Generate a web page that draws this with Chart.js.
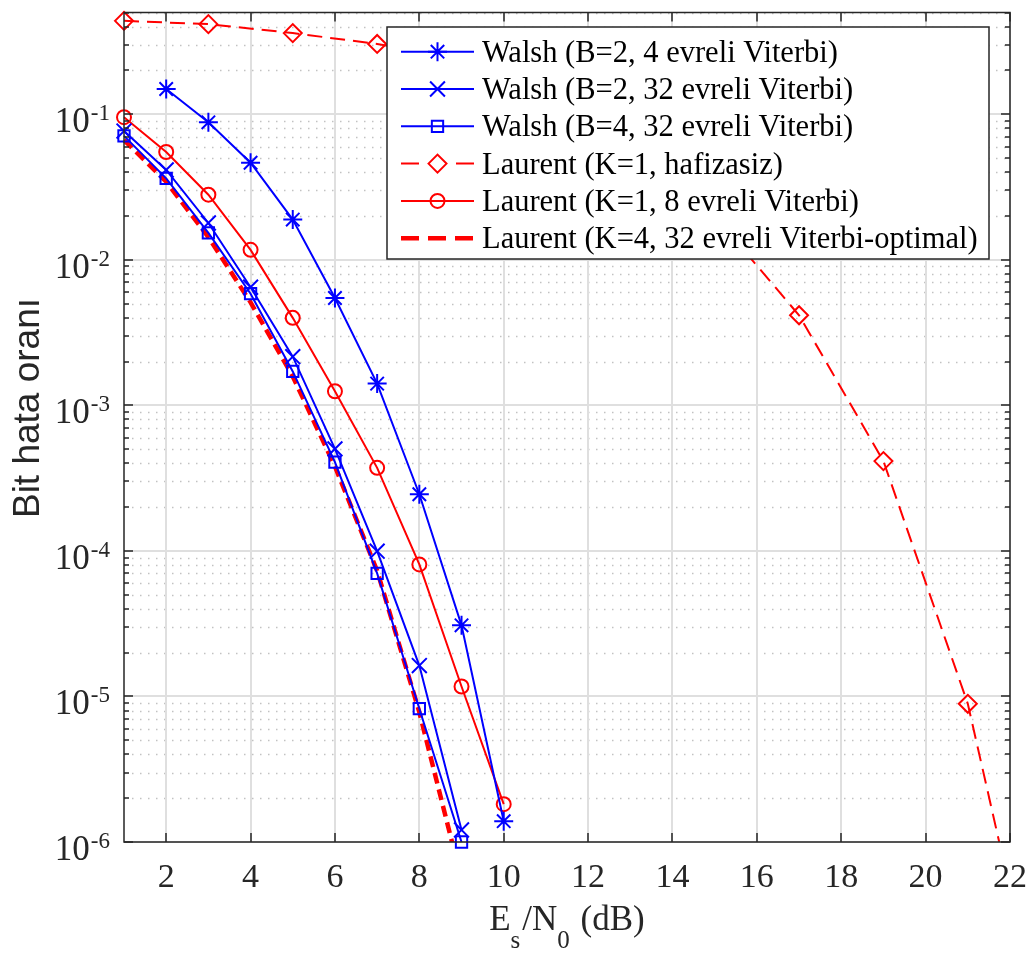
<!DOCTYPE html>
<html>
<head>
<meta charset="utf-8">
<script src="https://cdn.jsdelivr.net/npm/chart.js@4.4.1/dist/chart.umd.min.js"></script>
<style>
  html, body { margin: 0; padding: 0; background: #fff; }
  .c-chart { width: 1036px; height: 953px; }
</style>
</head>
<body>
<div class="c-chart"><canvas class="js-chart"></canvas></div>
<script>
// --- data ---
const walshB2V4X = [2, 3, 4, 5, 6, 7, 8, 9, 10];
const walshB2V4 = [0.149, 0.088, 0.0464, 0.0189, 0.00546, 1.41e-3, 2.45e-4, 3.08e-5, 1.39e-6];

const walshB2V32X = [1, 2, 3, 4, 5, 6, 7, 8, 9];
const walshB2V32 = [0.0766, 0.0414, 0.0179, 6.48e-3, 2.16e-3, 5.02e-4, 9.95e-5, 1.63e-5, 1.21e-6];

const walshB4V32X = [1, 2, 3, 4, 5, 6, 7, 8, 9];
const walshB4V32 = [0.071, 0.0363, 0.0153, 5.85e-3, 1.71e-3, 4.07e-4, 7.0e-5, 8.24e-6, 1.0e-6];

const laurentMemX = [1, 3, 5, 7, 9, 11, 13, 15, 17, 19, 21, 23];
const laurentMem = [0.438, 0.416, 0.361, 0.304, 0.24, 0.155, 0.068, 0.02, 4.16e-3, 4.14e-4, 8.9e-6, 2.5e-8];

const laurentK1X = [1, 2, 3, 4, 5, 6, 7, 8, 9, 10];
const laurentK1 = [0.0954, 0.055, 0.028, 0.0117, 3.99e-3, 1.25e-3, 3.72e-4, 8.07e-5, 1.17e-5, 1.82e-6];

const laurentK4X = [1, 2, 3, 4, 5, 6, 7, 8, 9];
const laurentK4 = [0.0665, 0.0344, 0.0143, 5.1e-3, 1.58e-3, 3.8e-4, 7.3e-5, 7.8e-6, 5.5e-7];

const seriesLabels = [
  'Walsh (B=2, 4 evreli Viterbi)',
  'Walsh (B=2, 32 evreli Viterbi)',
  'Walsh (B=4, 32 evreli Viterbi)',
  'Laurent (K=1, hafizasiz)',
  'Laurent (K=1, 8 evreli Viterbi)',
  'Laurent (K=4, 32 evreli Viterbi-optimal)',
];

const xTicks = [2, 4, 6, 8, 10, 12, 14, 16, 18, 20, 22];
const yTicks = [1e-6, 1e-5, 1e-4, 1e-3, 1e-2, 1e-1];
const yTickExp = ['-6', '-5', '-4', '-3', '-2', '-1'];
const xTitle = ['E', 's', '/N', '0', ' (dB)'];
const yTitle = 'Bit hata oranı';

// --- styling ---
const blue = '#0000ff';
const red = '#ff0000';
const axisColor = '#262626';
const serif = '"Liberation Serif", "Times New Roman", serif';
const sans = '"Liberation Sans", Arial, sans-serif';

const toPoints = function (xs, ys) {
  return xs.map((x, i) => ({ x: x, y: ys[i] }));
};

const styles = [
  { color: blue, width: 2, dash: [], marker: 'star', radius: 9.5 },
  { color: blue, width: 2, dash: [], marker: 'crossRot', radius: 10.5 },
  { color: blue, width: 2, dash: [], marker: 'rect', radius: 8 },
  { color: red, width: 2, dash: [15, 8], marker: 'rectRot', radius: 9 },
  { color: red, width: 2, dash: [], marker: 'circle', radius: 7 },
  { color: red, width: 4.5, dash: [11, 6], marker: false, radius: 0 },
];
const legendDash = [[], [], [], [18, 37], [], [18, 9]];

const makeSet = function (i, xs, ys, clip) {
  const s = styles[i];
  return {
    label: seriesLabels[i],
    data: toPoints(xs, ys),
    borderColor: s.color,
    borderWidth: s.width,
    borderDash: s.dash,
    pointStyle: s.marker,
    pointRadius: s.radius,
    pointHoverRadius: s.radius,
    pointBorderColor: s.color,
    pointBackgroundColor: 'rgba(0,0,0,0)',
    pointBorderWidth: 2,
    tension: 0,
    fill: false,
    clip: clip,
  };
};

const drawMarker = function (ctx, style, x, y) {
  if (!style.marker) return;
  ctx.save();
  ctx.setLineDash([]);
  ctx.strokeStyle = style.color;
  ctx.fillStyle = 'rgba(0,0,0,0)';
  ctx.lineWidth = 2;
  Chart.helpers.drawPoint(ctx, { pointStyle: style.marker, radius: style.radius, rotation: 0, borderWidth: 2 }, x, y);
  ctx.restore();
};

const matlabAxes = {
  id: 'matlabAxes',
  beforeDatasetsDraw(chart) {
    const { ctx, chartArea: a, scales: { x, y } } = chart;
    ctx.save();
    // minor dotted grid (log decades)
    ctx.strokeStyle = '#c2c2c2';
    ctx.lineWidth = 1.5;
    ctx.setLineDash([1.5, 6.5]);
    for (const major of yTicks) {
      for (let m = 2; m <= 9; m++) {
        const v = major * m;
        if (v > y.max) continue;
        const py = Math.round(y.getPixelForValue(v)) + 0.5;
        ctx.beginPath();
        ctx.moveTo(a.left, py);
        ctx.lineTo(a.right, py);
        ctx.stroke();
      }
    }
    ctx.setLineDash([]);
    ctx.strokeStyle = '#dfdfdf';
    ctx.lineWidth = 2;
    for (const v of yTicks) {
      const py = Math.round(y.getPixelForValue(v));
      ctx.beginPath();
      ctx.moveTo(a.left, py);
      ctx.lineTo(a.right, py);
      ctx.stroke();
    }
    for (const v of xTicks) {
      const px = Math.round(x.getPixelForValue(v));
      ctx.beginPath();
      ctx.moveTo(px, a.top);
      ctx.lineTo(px, a.bottom);
      ctx.stroke();
    }
    ctx.restore();
  },
  afterDatasetsDraw(chart) {
    const { ctx, chartArea: a, scales: { x, y } } = chart;
    ctx.save();
    ctx.strokeStyle = axisColor;
    ctx.lineWidth = 1.5;
    ctx.setLineDash([]);
    // ticks (inward, both sides)
    ctx.beginPath();
    for (const v of xTicks) {
      const px = Math.round(x.getPixelForValue(v));
      ctx.moveTo(px, a.bottom);
      ctx.lineTo(px, a.bottom - 9);
      ctx.moveTo(px, a.top);
      ctx.lineTo(px, a.top + 9);
    }
    for (const major of yTicks) {
      for (let m = 1; m <= 9; m++) {
        const v = major * m;
        if (v > y.max) continue;
        const len = m === 1 ? 9 : 5;
        const py = Math.round(y.getPixelForValue(v));
        ctx.moveTo(a.left, py);
        ctx.lineTo(a.left + len, py);
        ctx.moveTo(a.right, py);
        ctx.lineTo(a.right - len, py);
      }
    }
    ctx.stroke();
    // box
    ctx.strokeRect(a.left, a.top, a.right - a.left, a.bottom - a.top);

    // tick labels
    ctx.fillStyle = axisColor;
    ctx.textBaseline = 'alphabetic';
    ctx.font = '34px ' + serif;
    ctx.textAlign = 'center';
    for (const v of xTicks) {
      ctx.fillText(String(v), x.getPixelForValue(v), a.bottom + 45);
    }
    ctx.textAlign = 'left';
    yTicks.forEach((v, i) => {
      const py = y.getPixelForValue(v);
      ctx.font = '23px ' + serif;
      const wExp = ctx.measureText(yTickExp[i]).width;
      ctx.font = '35px ' + serif;
      const wBase = ctx.measureText('10').width;
      const x0 = a.left - 15 - wExp - wBase;
      ctx.fillText('10', x0, py + 18);
      ctx.font = '23px ' + serif;
      ctx.fillText(yTickExp[i], x0 + wBase + 1, py + 6);
    });

    // x title with subscripts
    const parts = [
      { t: xTitle[0], size: 35, dy: 0 },
      { t: xTitle[1], size: 25, dy: 18 },
      { t: xTitle[2], size: 35, dy: 0 },
      { t: xTitle[3], size: 25, dy: 18 },
      { t: xTitle[4], size: 35, dy: 0 },
    ];
    let total = 0;
    for (const p of parts) {
      ctx.font = p.size + 'px ' + serif;
      p.w = ctx.measureText(p.t).width + (p.dy ? 2 : 0);
      total += p.w;
    }
    let cx = (a.left + a.right) / 2 - total / 2;
    for (const p of parts) {
      ctx.font = p.size + 'px ' + serif;
      ctx.fillText(p.t, cx, 930 + p.dy);
      cx += p.w;
    }

    // y title
    ctx.save();
    ctx.font = '37px ' + sans;
    ctx.textAlign = 'center';
    ctx.translate(39, 408);
    ctx.rotate(-Math.PI / 2);
    ctx.fillText(yTitle, 0, 0);
    ctx.restore();

    // legend box (drawn on top of the data, like MATLAB)
    const lb = { left: 387, top: 27, right: 989, bottom: 259 };
    ctx.fillStyle = '#ffffff';
    ctx.fillRect(lb.left, lb.top, lb.right - lb.left, lb.bottom - lb.top);
    ctx.strokeStyle = axisColor;
    ctx.lineWidth = 1.5;
    ctx.strokeRect(lb.left, lb.top, lb.right - lb.left, lb.bottom - lb.top);
    ctx.font = '30.5px ' + serif;
    ctx.textAlign = 'left';
    seriesLabels.forEach((label, i) => {
      const s = styles[i];
      const ry = 51.7 + i * 37.3;
      ctx.save();
      ctx.strokeStyle = s.color;
      ctx.lineWidth = s.width;
      ctx.setLineDash(legendDash[i]);
      ctx.beginPath();
      ctx.moveTo(401, ry);
      ctx.lineTo(474, ry);
      ctx.stroke();
      ctx.restore();
      drawMarker(ctx, s, 437.5, ry);
      ctx.fillStyle = '#000000';
      ctx.fillText(label, 482, ry + 10);
    });
    ctx.restore();
  },
};

const createChart = function () {
  const canvas = document.querySelector('.js-chart');
  return new Chart(canvas, {
    type: 'line',
    data: {
      datasets: [
        makeSet(0, walshB2V4X, walshB2V4, { left: 10, top: 10, right: 0, bottom: 12 }),
        makeSet(1, walshB2V32X, walshB2V32, { left: 12, top: 10, right: 0, bottom: 12 }),
        makeSet(2, walshB4V32X, walshB4V32, { left: 10, top: 10, right: 0, bottom: 10 }),
        makeSet(3, laurentMemX, laurentMem, { left: 12, top: 12, right: 0, bottom: 0 }),
        makeSet(4, laurentK1X, laurentK1, { left: 10, top: 10, right: 0, bottom: 10 }),
        makeSet(5, laurentK4X, laurentK4, { left: 3, top: 3, right: 0, bottom: 0 }),
      ],
    },
    options: {
      responsive: true,
      maintainAspectRatio: false,
      animation: false,
      events: [],
      layout: { padding: { left: 0, top: 4, right: 26, bottom: 0 } },
      plugins: {
        legend: { display: false },
        tooltip: { enabled: false },
      },
      scales: {
        x: {
          type: 'linear',
          min: 1,
          max: 22,
          grid: { display: false },
          border: { display: false },
          ticks: { display: false },
          afterFit: function (scale) {
            scale.height = 111;
          },
        },
        y: {
          type: 'logarithmic',
          min: 1e-6,
          max: 0.5,
          grid: { display: false },
          border: { display: false },
          ticks: { display: false },
          afterFit: function (scale) {
            scale.width = 124;
          },
        },
      },
    },
    plugins: [matlabAxes],
  });
};

document.addEventListener('DOMContentLoaded', createChart);
</script>
</body>
</html>
